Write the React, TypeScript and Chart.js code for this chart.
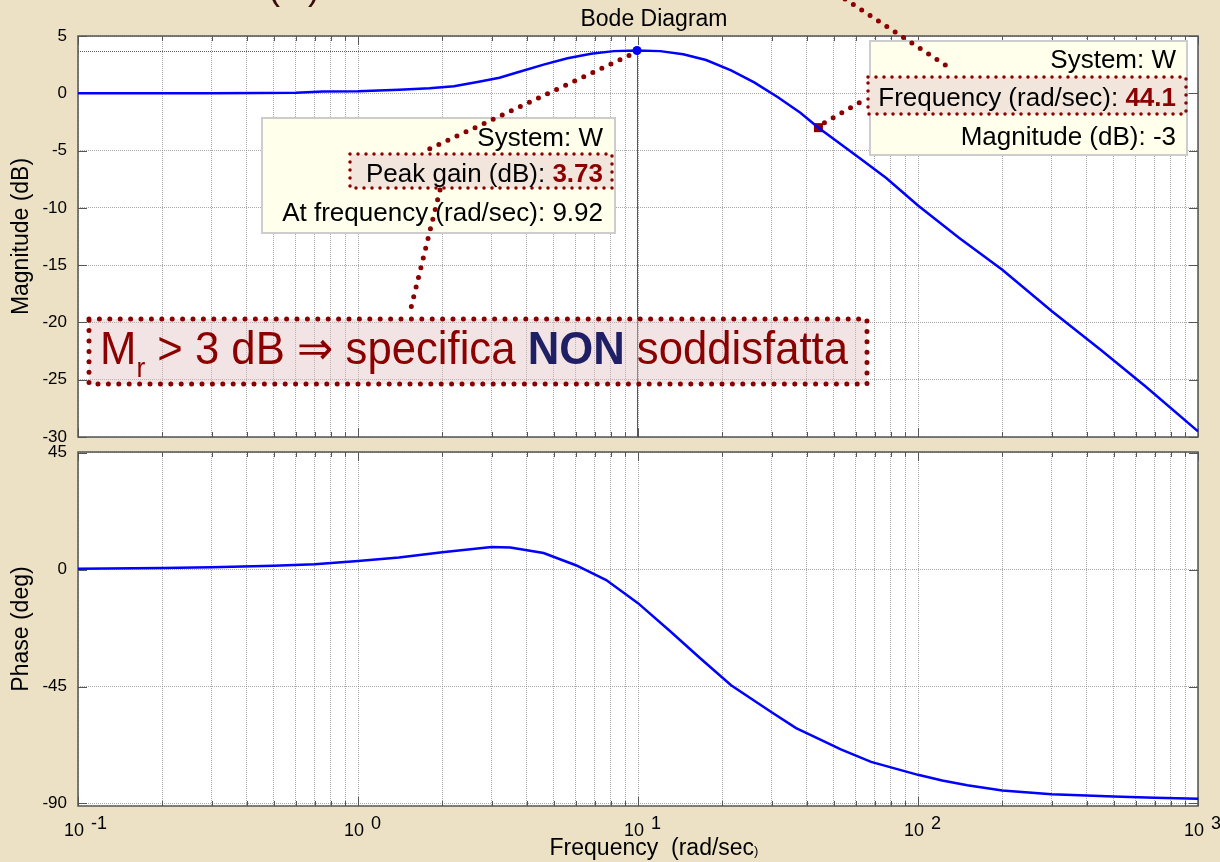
import React, { useEffect, useRef } from "react";
import { Chart, registerables } from "chart.js";

Chart.register(...registerables);

const FONT = "'Liberation Sans', Arial, Helvetica, sans-serif";

// ---------------- data ----------------
const magFreq = [0.1, 0.2, 0.3, 0.45, 0.6, 0.75, 1, 1.4, 1.8, 2.2, 2.7, 3.2, 3.8, 4.6, 5.6, 6.8, 8.2, 9.92, 12, 14.5, 17.5, 21.5, 26, 31.6, 38, 44.1, 52, 63, 77, 100, 140, 200, 300, 450, 650, 1000];
const magDb = [0, 0, 0.01, 0.02, 0.05, 0.15, 0.17, 0.3, 0.45, 0.62, 1.0, 1.35, 1.9, 2.5, 3.05, 3.45, 3.68, 3.73, 3.68, 3.4, 2.9, 2.0, 0.95, -0.35, -1.7, -3.0, -4.3, -5.8, -7.4, -9.8, -12.6, -15.4, -19.0, -22.4, -25.6, -29.5];

const phaseFreq = [0.1, 0.2, 0.3, 0.5, 0.7, 1, 1.4, 2, 3, 3.5, 4.6, 6, 7.7, 10, 13, 16.8, 21.5, 30, 36.7, 45, 53, 68, 100, 122, 150, 200, 300, 500, 700, 1000];
const phaseDeg = [0.3, 0.6, 0.9, 1.5, 2.1, 3.3, 4.7, 6.7, 8.7, 8.5, 6.4, 1.7, -4.0, -12.9, -23.6, -34.4, -44.5, -54.9, -61.0, -65.5, -69.2, -74.0, -79.0, -81.2, -83.0, -85.0, -86.5, -87.3, -87.8, -88.2];

const freqGrid = [0.1, 0.2, 0.3, 0.4, 0.5, 0.6, 0.7, 0.8, 0.9, 1, 2, 3, 4, 5, 6, 7, 8, 9, 10, 20, 30, 40, 50, 60, 70, 80, 90, 100, 200, 300, 400, 500, 600, 700, 800, 900, 1000];
const freqDecades = [0.1, 1, 10, 100, 1000];
const decadeExponents = ["-1", "0", "1", "2", "3"];
const magTicks = [5, 0, -5, -10, -15, -20, -25, -30];
const phaseTicks = [45, 0, -45, -90];

const peakFreq = 9.92;
const peakGain = 3.73;
const bwFreq = 44.1;
const bwGain = -3;

// ---------------- styles ----------------
const GRID = "rgba(100,100,100,0.55)";
const DARK_RED = "#8B0000";
const NAVY = "#1F1F66";
const BLUE = "#0000FF";
const BG = "#ECE1C5";

function dotLine(ctx: any, x1: number, y1: number, x2: number, y2: number, d = 5, gap = 10) {
  ctx.save();
  ctx.strokeStyle = DARK_RED;
  ctx.lineWidth = d;
  ctx.lineCap = "round";
  ctx.setLineDash([0, gap]);
  ctx.beginPath();
  ctx.moveTo(x1, y1);
  ctx.lineTo(x2, y2);
  ctx.stroke();
  ctx.restore();
}

function dotRect(ctx: any, x: number, y: number, w: number, h: number, fill: string, d: number, gap: number) {
  ctx.save();
  ctx.fillStyle = fill;
  ctx.fillRect(x, y, w, h);
  ctx.strokeStyle = DARK_RED;
  ctx.lineWidth = d;
  ctx.lineCap = "round";
  ctx.setLineDash([0, gap]);
  ctx.strokeRect(x, y, w, h);
  ctx.restore();
}

function rightText(ctx: any, parts: any[], right: number, baseline: number, size: number) {
  let x = right;
  ctx.textAlign = "right";
  ctx.textBaseline = "alphabetic";
  for (let i = parts.length - 1; i >= 0; i--) {
    const p = parts[i];
    ctx.font = `${p.bold ? "bold " : ""}${size}px ${FONT}`;
    ctx.fillStyle = p.color || "#000";
    ctx.fillText(p.t, x, baseline);
    x -= ctx.measureText(p.t).width;
  }
}

function infoBox(ctx: any, x: number, y: number, w: number, h: number) {
  ctx.save();
  ctx.fillStyle = "#FFFFEC";
  ctx.fillRect(x, y, w, h);
  ctx.strokeStyle = "#CDCDCD";
  ctx.lineWidth = 2;
  ctx.strokeRect(x, y, w, h);
  ctx.restore();
}

function drawFrame(chart: any) {
  const { ctx, chartArea: a, scales } = chart;
  ctx.save();
  ctx.strokeStyle = "#555";
  ctx.lineWidth = 1;
  ctx.beginPath();
  freqGrid.forEach((v) => {
    const p = Math.round(scales.x.getPixelForValue(v)) + 0.5;
    const len = freqDecades.includes(v) ? 9 : 5;
    ctx.moveTo(p, a.bottom);
    ctx.lineTo(p, a.bottom - len);
    ctx.moveTo(p, a.top);
    ctx.lineTo(p, a.top + len);
  });
  scales.y.ticks.forEach((t: any) => {
    const p = Math.round(scales.y.getPixelForValue(t.value)) + 0.5;
    ctx.moveTo(a.left, p);
    ctx.lineTo(a.left + 9, p);
    ctx.moveTo(a.right, p);
    ctx.lineTo(a.right - 9, p);
  });
  ctx.stroke();
  ctx.lineWidth = 1.5;
  ctx.strokeStyle = "#555";
  ctx.strokeRect(a.left, a.top, a.right - a.left, a.bottom - a.top);
  ctx.restore();
}

const framePlugin = {
  id: "frame",
  beforeDraw(chart: any) {
    const { ctx, chartArea: a } = chart;
    ctx.save();
    ctx.fillStyle = "#fff";
    ctx.fillRect(a.left, a.top, a.right - a.left, a.bottom - a.top);
    ctx.restore();
  },
  beforeDatasetsDraw(chart: any) {
    drawFrame(chart);
  },
};

const magAnnotations = {
  id: "magAnnotations",
  beforeDatasetsDraw(chart: any) {
    const { ctx, chartArea: a, scales } = chart;
    const px = scales.x.getPixelForValue(peakFreq);
    const py = scales.y.getPixelForValue(peakGain);
    ctx.save();
    ctx.strokeStyle = "#555";
    ctx.lineWidth = 1;
    ctx.setLineDash([1, 1]);
    ctx.beginPath();
    ctx.moveTo(a.left, Math.round(py) + 0.5);
    ctx.lineTo(px, Math.round(py) + 0.5);
    ctx.stroke();
    ctx.setLineDash([]);
    ctx.beginPath();
    ctx.moveTo(Math.round(px) + 0.5, py);
    ctx.lineTo(Math.round(px) + 0.5, a.bottom);
    ctx.stroke();
    ctx.restore();
  },
  afterDraw(chart: any) {
    const { ctx, scales } = chart;
    const px = scales.x.getPixelForValue(peakFreq);
    const py = scales.y.getPixelForValue(peakGain);
    const bx = scales.x.getPixelForValue(bwFreq);
    const by = scales.y.getPixelForValue(bwGain);

    ctx.save();
    // title
    ctx.font = `23px ${FONT}`;
    ctx.fillStyle = "#000";
    ctx.textAlign = "center";
    ctx.textBaseline = "alphabetic";
    ctx.fillText("Bode Diagram", 654, 26);

    // fragments of the slide title above the chart
    ctx.font = `36px ${FONT}`;
    ctx.fillStyle = "#3B0A0A";
    ctx.textAlign = "left";
    ctx.fillText("(", 268, -1);
    ctx.fillText(")", 308, -1);

    // peak data tip
    infoBox(ctx, 262, 118, 353, 115);
    dotRect(ctx, 350, 154, 262, 34, "#F2E6DC", 3.5, 8);
    rightText(ctx, [{ t: "System: W" }], 603, 146, 26);
    rightText(ctx, [{ t: "Peak gain (dB): " }, { t: "3.73", bold: true, color: DARK_RED }], 603, 182, 26);
    rightText(ctx, [{ t: "At frequency (rad/sec): 9.92" }], 603, 221, 26);

    // bandwidth data tip
    infoBox(ctx, 870, 41, 317, 114);
    dotRect(ctx, 868, 77, 318, 37, "#F2E6DC", 3.5, 8);
    rightText(ctx, [{ t: "System: W" }], 1176, 68, 26);
    rightText(ctx, [{ t: "Frequency (rad/sec): " }, { t: "44.1", bold: true, color: DARK_RED }], 1176, 106, 26);
    rightText(ctx, [{ t: "Magnitude (dB): -3" }], 1176, 145, 26);

    // big comment box
    dotRect(ctx, 89, 319, 778, 65, "rgba(225,190,190,0.42)", 5, 10.4);
    const segs = [
      { t: "M", size: 43, dy: 0, color: DARK_RED },
      { t: "r", size: 26, dy: 12, color: DARK_RED },
      { t: " > 3 dB ", size: 43, dy: 0, color: DARK_RED },
      { t: "\u21D2", size: 43, dy: 0, color: DARK_RED },
      { t: " specifica ", size: 43, dy: 0, color: DARK_RED },
      { t: "NON", size: 43, dy: 0, color: NAVY, bold: true },
      { t: " soddisfatta", size: 43, dy: 0, color: DARK_RED },
    ];
    let total = 0;
    segs.forEach((s: any) => {
      ctx.font = `${s.bold ? "bold " : ""}${s.size}px ${FONT}`;
      total += ctx.measureText(s.t).width;
    });
    ctx.save();
    ctx.translate(100, 364);
    ctx.scale(748 / total, 1.08);
    let cx = 0;
    ctx.textAlign = "left";
    segs.forEach((s: any) => {
      ctx.font = `${s.bold ? "bold " : ""}${s.size}px ${FONT}`;
      ctx.fillStyle = s.color;
      ctx.fillText(s.t, cx, s.dy);
      cx += ctx.measureText(s.t).width;
    });
    ctx.restore();

    // connectors
    dotLine(ctx, px - 8, py + 5, 423, 152);
    dotLine(ctx, 440, 190, 409, 316);
    dotLine(ctx, bx + 6, by - 5, 866, 99);
    dotLine(ctx, 845, -1, 950, 68);
    ctx.restore();
  },
};

const phaseAnnotations = {
  id: "phaseAnnotations",
  afterDraw(chart: any) {
    const { ctx, chartArea: a, scales } = chart;
    ctx.save();
    ctx.fillStyle = "#000";
    ctx.textBaseline = "alphabetic";
    ctx.textAlign = "left";
    ctx.font = `18px ${FONT}`;
    freqDecades.forEach((v, i) => {
      const p = scales.x.getPixelForValue(v);
      ctx.fillText("10", p - 14, a.bottom + 30);
      ctx.fillText(decadeExponents[i], p + 13, a.bottom + 23);
    });
    const main = "Frequency  (rad/sec";
    ctx.font = `23px ${FONT}`;
    const w1 = ctx.measureText(main).width;
    ctx.font = `13px ${FONT}`;
    const w2 = ctx.measureText(")").width;
    const start = 654 - (w1 + w2) / 2;
    ctx.font = `23px ${FONT}`;
    ctx.fillText(main, start, a.bottom + 49);
    ctx.font = `13px ${FONT}`;
    ctx.fillText(")", start + w1, a.bottom + 49);
    ctx.restore();
  },
};

function xAxis(height: number) {
  return {
    type: "logarithmic" as const,
    min: 0.1,
    max: 1000,
    afterBuildTicks: (s: any) => {
      s.ticks = freqGrid.map((v) => ({ value: v }));
    },
    afterFit: (s: any) => {
      s.height = height;
      s.paddingLeft = 0;
      s.paddingRight = 0;
      s.paddingTop = 0;
      s.paddingBottom = 0;
    },
    ticks: { display: false },
    grid: { color: GRID, lineWidth: 1, drawTicks: false },
    border: { display: false, dash: [1, 1] },
  };
}

function yAxis(min: number, max: number, ticks: number[], title: string) {
  return {
    type: "linear" as const,
    min,
    max,
    afterBuildTicks: (s: any) => {
      s.ticks = ticks.map((v) => ({ value: v }));
    },
    afterFit: (s: any) => {
      s.width = 78;
      s.paddingTop = 0;
      s.paddingBottom = 0;
      s.paddingLeft = 0;
      s.paddingRight = 0;
    },
    ticks: {
      color: "#000",
      font: { family: FONT, size: 17 },
      padding: 11,
      autoSkip: false,
      callback: (v: any) => String(v),
    },
    grid: { color: GRID, lineWidth: 1, drawTicks: false },
    border: { display: false, dash: [1, 1] },
    title: {
      display: true,
      text: title,
      color: "#000",
      font: { family: FONT, size: 23 },
      padding: { top: 8, bottom: 0 },
    },
  };
}

export default function App() {
  const magRef = useRef<HTMLCanvasElement | null>(null);
  const phRef = useRef<HTMLCanvasElement | null>(null);

  useEffect(() => {
    const common = {
      responsive: false,
      devicePixelRatio: 1,
      animation: false as const,
      plugins: { legend: { display: false }, tooltip: { enabled: false } },
      elements: { point: { radius: 0 } },
    };
    const mag = new Chart(magRef.current!, {
      type: "line",
      data: {
        datasets: [
          {
            data: magFreq.map((f, i) => ({ x: f, y: magDb[i] })),
            borderColor: BLUE,
            borderWidth: 2.5,
            pointRadius: 0,
            tension: 0,
          },
          {
            data: [{ x: peakFreq, y: peakGain }],
            showLine: false,
            pointRadius: 4.5,
            pointBackgroundColor: BLUE,
            pointBorderColor: BLUE,
            pointBorderWidth: 0,
          },
          {
            data: [{ x: bwFreq, y: bwGain }],
            showLine: false,
            pointStyle: "rect",
            pointRadius: 6.4,
            pointBackgroundColor: DARK_RED,
            pointBorderColor: DARK_RED,
            pointBorderWidth: 0,
          },
        ],
      },
      options: {
        ...common,
        layout: { padding: { left: 0, right: 22, top: 36, bottom: 8 } },
        scales: { x: xAxis(0), y: yAxis(-30, 5, magTicks, "Magnitude (dB)") },
      } as any,
      plugins: [framePlugin, magAnnotations],
    });
    const ph = new Chart(phRef.current!, {
      type: "line",
      data: {
        datasets: [
          {
            data: phaseFreq.map((f, i) => ({ x: f, y: phaseDeg[i] })),
            borderColor: BLUE,
            borderWidth: 2.5,
            pointRadius: 0,
            tension: 0,
          },
        ],
      },
      options: {
        ...common,
        layout: { padding: { left: 0, right: 22, top: 7, bottom: 0 } },
        scales: { x: xAxis(56), y: yAxis(-91, 45.3, phaseTicks, "Phase (deg)") },
      } as any,
      plugins: [framePlugin, phaseAnnotations],
    });
    return () => {
      mag.destroy();
      ph.destroy();
    };
  }, []);

  return (
    <div style={{ position: "fixed", left: 0, top: 0, width: 1220, height: 862, background: BG, overflow: "hidden" }}>
      <canvas ref={magRef} width={1220} height={445} style={{ position: "absolute", left: 0, top: 0 }} />
      <canvas ref={phRef} width={1220} height={417} style={{ position: "absolute", left: 0, top: 445 }} />
    </div>
  );
}
